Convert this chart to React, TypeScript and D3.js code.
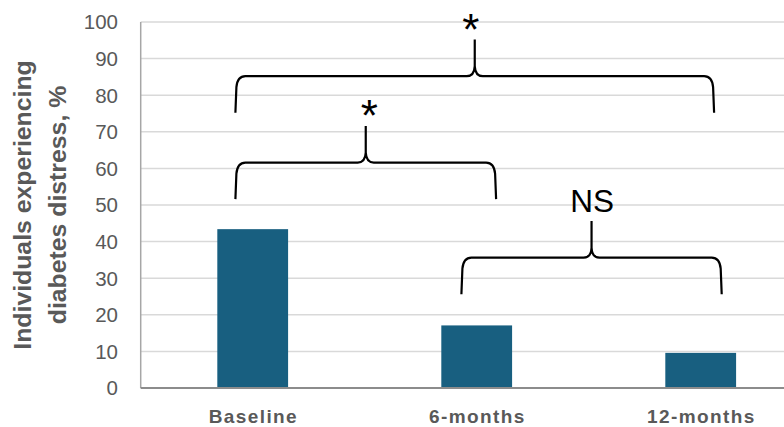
import React from "react";
import * as d3 from "d3";

const categories = ["Baseline", "6-months", "12-months"];
const values = [43.4, 17.1, 9.6];
const yTicks = [0, 10, 20, 30, 40, 50, 60, 70, 80, 90, 100];
const yTitleLines = ["Individuals experiencing", "diabetes distress, %"];

// Significance brackets: from category, to category, bracket level (value units), label
const bracketFrom = ["Baseline", "Baseline", "6-months"];
const bracketTo = ["12-months", "6-months", "12-months"];
const bracketLevel = [85.2, 61.6, 35.6];
const bracketLabel = ["*", "*", "NS"];

const W = 784;
const H = 427;
const FONT = "'Liberation Sans', Arial, sans-serif";

export default function App() {
  const x = d3
    .scaleBand<string>()
    .domain(categories)
    .range([140.7, 812.7])
    .paddingInner(0.684)
    .paddingOuter(0.342);
  const y = d3.scaleLinear().domain([0, 100]).range([388, 22]);
  const bw = x.bandwidth();
  const cx = (c: string) => (x(c) as number) + bw / 2;

  // per-bracket pixel offsets for leg positions
  const legOff = [
    [-17.3, 13.4],
    [-17.3, 19.4],
    [-15.3, 21],
  ];

  const bracePath = (x1: number, x2: number, yh: number, yb: number, yt: number) => {
    const xc = (x1 + x2) / 2;
    return [
      `M${x1},${yb}`,
      `L${x1 + 1},${yh + 11}`,
      `Q${x1 + 2},${yh} ${x1 + 10},${yh}`,
      `L${xc - 8},${yh}`,
      `Q${xc - 0.5},${yh} ${xc},${yh - 10}`,
      `L${xc},${yt}`,
      `M${xc},${yh - 10}`,
      `Q${xc + 0.5},${yh} ${xc + 8},${yh}`,
      `L${x2 - 10},${yh}`,
      `Q${x2 - 2},${yh} ${x2 - 1},${yh + 11}`,
      `L${x2},${yb}`,
    ].join(" ");
  };

  return (
    <svg
      width={W}
      height={H}
      style={{ position: "absolute", left: 0, top: 0, background: "#fff" }}
      fontFamily={FONT}
    >
      <rect x={0} y={0} width={W} height={H} fill="#fff" />
      {/* gridlines */}
      {yTicks.map((t) => (
        <line
          key={"g" + t}
          x1={140.7}
          x2={W}
          y1={y(t)}
          y2={y(t)}
          stroke="#d9d9d9"
          strokeWidth={1.5}
        />
      ))}
      {/* left axis line */}
      <line x1={140.7} x2={140.7} y1={y(100)} y2={y(0)} stroke="#a6a6a6" strokeWidth={1.5} />
      {/* bars */}
      {categories.map((c, i) => (
        <rect
          key={c}
          x={x(c)}
          y={y(values[i])}
          width={bw}
          height={y(0) - y(values[i])}
          fill="#185f80"
        />
      ))}
      {/* bottom axis */}
      <line x1={140.7} x2={W} y1={y(0)} y2={y(0)} stroke="#8c8c8c" strokeWidth={2} />
      {/* y tick labels */}
      {yTicks.map((t) => (
        <text
          key={"t" + t}
          x={118}
          y={y(t)}
          dy="0.36em"
          textAnchor="end"
          fontSize={20.5}
          fill="#595959"
        >
          {t}
        </text>
      ))}
      {/* x labels */}
      {categories.map((c) => (
        <text
          key={"x" + c}
          x={cx(c) + 0.7}
          y={422.5}
          textAnchor="middle"
          fontSize={19}
          fontWeight="bold"
          letterSpacing={1.4}
          fill="#595959"
        >
          {c}
        </text>
      ))}
      {/* y title */}
      <g transform={`translate(0, ${(y(0) + y(100)) / 2}) rotate(-90)`}>
        {yTitleLines.map((l, i) => (
          <text
            key={l}
            x={0}
            y={31 + i * 34.5}
            textAnchor="middle"
            fontSize={24.8}
            fontWeight="bold"
            fill="#595959"
          >
            {l}
          </text>
        ))}
      </g>
      {/* brackets */}
      {bracketLevel.map((lv, i) => {
        const x1 = cx(bracketFrom[i]) + legOff[i][0];
        const x2 = cx(bracketTo[i]) + legOff[i][1];
        const yh = y(lv);
        const yb = y(lv - 10);
        const yt = y(lv + 10);
        const xc = (x1 + x2) / 2;
        const isStar = bracketLabel[i] === "*";
        return (
          <g key={"b" + i}>
            <path d={bracePath(x1, x2, yh, yb, yt)} fill="none" stroke="#000" strokeWidth={2.2} />
            <text
              x={isStar ? xc - 4 + (i === 1 ? 7.5 : 0) : xc + 0.5}
              y={isStar ? yt + 5 : yt - 9}
              textAnchor="middle"
              fontSize={isStar ? 44 : 31.5}
              fill="#000"
            >
              {bracketLabel[i]}
            </text>
          </g>
        );
      })}
    </svg>
  );
}
